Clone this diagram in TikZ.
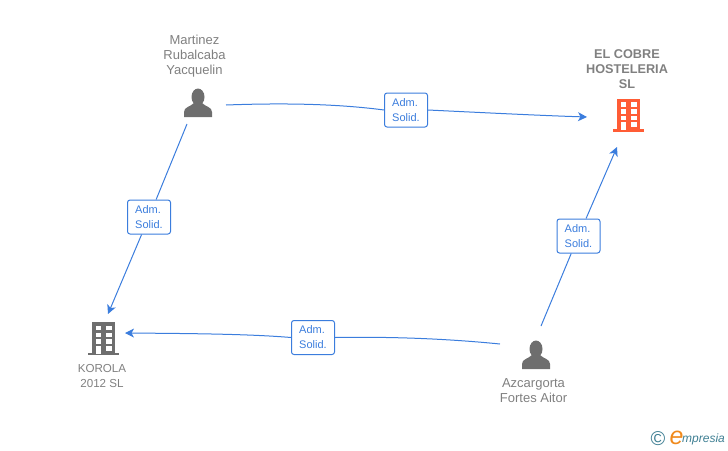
\documentclass[tikz,border=0pt]{standalone}
\usepackage{fontspec}
\setmainfont{Liberation Sans}
\usetikzlibrary{arrows.meta}
\definecolor{lbl}{HTML}{808080}
\definecolor{edge}{HTML}{3B7DDD}
\definecolor{icong}{HTML}{6E6E6E}
\definecolor{iconr}{HTML}{FF5C35}
\definecolor{logot}{HTML}{3F7F93}
\definecolor{logoo}{HTML}{F08A1D}
\tikzset{
  x=1pt,y=-1pt,
  caption/.style={text=lbl,font=\fontsize{13}{15}\selectfont,align=center,inner sep=0pt},
  captionb/.style={text=lbl,font=\fontsize{12.7}{15}\selectfont\bfseries,align=center,inner sep=0pt},
  badge/.style={draw=edge,line width=1pt,fill=white,rounded corners=2.5pt,text=edge,
     font=\fontsize{11}{15}\selectfont,align=left,minimum width=43pt,minimum height=34pt,inner sep=0pt},
  link/.style={draw=edge,line width=1pt},
  linka/.style={link,-{Stealth[length=9pt,width=9pt,inset=2.5pt]}},
  pics/person/.style={code={
    \fill[icong] (0,-6) ellipse (6.5 and 8.5);
    \fill[icong] (-14,14) -- (-14,9) .. controls (-14,4) and (-8,4) .. (-4,0) -- (4,0)
       .. controls (8,4) and (14,4) .. (14,9) -- (14,14) -- cycle;
  }},
  pics/building/.style={code={
    \fill[#1] (-11.5,-16.5) rectangle (11.5,15);
    \fill[#1] (-15.5,14) rectangle (15.5,16.5);
    \foreach \yy in {-13,-6,0.5} {
      \fill[white] (-7.5,\yy) rectangle (-2.5,\yy+4.5);
      \fill[white] (2.5,\yy) rectangle (8,\yy+4.5);
    }
    \fill[white] (2.5,7) rectangle (8,12);
    \fill[white] (-7.5,7) rectangle (-2.5,15);
  }},
}
\begin{document}
\begin{tikzpicture}
\useasboundingbox (0,0) rectangle (728,450);
% icons
\pic at (198,103) {person};
\pic at (536,355) {person};
\pic at (628.5,115) {building=iconr};
\pic at (103.5,338.5) {building=icong};
% captions
\node[caption] (martinez) at (194.5,56) {Martinez\\Rubalcaba\\Yacquelin};
\node[captionb] (cobre) at (627,69.5) {EL COBRE\\HOSTELERIA\\SL};
\node[caption,font=\fontsize{11.6}{15}\selectfont] (korola) at (102,376.5) {KOROLA\\2012 SL};
\node[caption] (azcar) at (533.5,390.5) {Azcargorta\\Fortes Aitor};
% connector ends
\coordinate (mR) at (226,105);
\coordinate (mB) at (187,124);
\coordinate (cL) at (587,117);
\coordinate (cB) at (617,147);
\coordinate (kT) at (108,314);
\coordinate (kR) at (125,333);
\coordinate (aL) at (500,344);
\coordinate (aT) at (541,326);
% badges
\node[badge] (b1) at (406,110) {Adm.\\Solid.};
\node[badge] (b2) at (149,217) {Adm.\\Solid.};
\node[badge] (b3) at (313,337.5) {Adm.\\Solid.};
\node[badge] (b4) at (578.5,236) {Adm.\\Solid.};
% connectors
\draw[link] (mR) .. controls (280,103) and (335,103.5) .. (b1.west);
\draw[linka] (b1.east) .. controls (480,112.5) and (540,115.5) .. (cL);
\draw[link] (mB) -- (b2);
\draw[linka] (b2) -- (kT);
\draw[link] (aL) .. controls (450,339) and (395,336.5) .. (b3.east);
\draw[linka] (b3.west) .. controls (250,334) and (190,333.5) .. (kR);
\draw[link] (aT) -- (b4);
\draw[linka] (b4) -- (cB);
% logo
\node[text=logot,font=\fontsize{20}{20}\selectfont,inner sep=0pt] (copy) at (658,439) {\textcopyright};
\node[text=logoo,font=\fontsize{25}{25}\selectfont\itshape,inner sep=0pt] (loge) at (676.5,438) {e};
\node[text=logot,font=\fontsize{12}{12}\selectfont\itshape,inner sep=0pt,anchor=west] (logt) at (682,439) {mpresia};
\end{tikzpicture}
\end{document}
